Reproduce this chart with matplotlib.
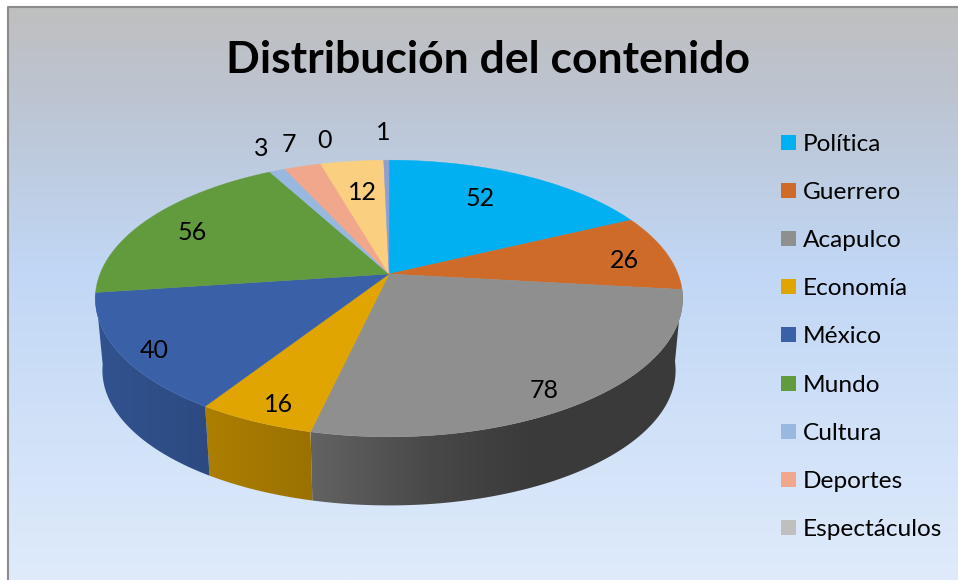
import numpy as np
import matplotlib
matplotlib.use('Agg')
import matplotlib.pyplot as plt
from matplotlib.colors import LinearSegmentedColormap, to_rgb
from matplotlib.patches import Polygon, Rectangle

plt.rcParams['font.family'] = ['Lato', 'DejaVu Sans']

# last two slices are not in the legend of the original
categories = ['Política', 'Guerrero', 'Acapulco', 'Economía', 'México', 'Mundo',
              'Cultura', 'Deportes', 'Espectáculos']
values = [52, 26, 78, 16, 40, 56, 3, 7, 0, 12, 1]
colors = ['#00b0f0', '#cf6b28', '#8f8f8f', '#e0a500', '#3a61a8', '#629a3e',
          '#98b8df', '#f0a78c', '#bfbfbf', '#fbcf80', '#8f9fcf']
label_pos = [(480, 198), (624, 260), (544, 390), (279, 404), (154, 350), (192, 232),
             (261, 149), (289, 144), (325, 141), (362, 192), (383, 133)]
# slices whose side can be seen: Acapulco, Economía, México
wall_slices = [2, 3, 4]

# perspective of the disc, in pixels
cx, cy = 389, 274
rx, ry, k = 289, 134, 0.177
depth, shrink = 72.5, 0.976


def top_edge(theta):
    x, y = np.sin(theta), np.cos(theta)
    w = 1 + k * y
    return cx + rx * x / w, cy - ry * y / w


def bottom_edge(theta):
    px, py = top_edge(theta)
    return cx + (px - cx) * shrink, cy + (py - cy) * shrink + depth


def wall_shade(x):
    return np.interp(x, [100, 205, 311, 433, 530, 690], [0.85, 0.77, 0.69, 0.50, 0.41, 0.41])


fig = plt.figure(figsize=(9.58, 5.8), dpi=100)
ax = fig.add_axes([0, 0, 1, 1])
ax.set_xlim(0, 958)
ax.set_ylim(580, 0)
ax.axis('off')

# background
bg = LinearSegmentedColormap.from_list('bg', [(0, '#bfbfbf'), (0.17, '#bcc5d3'),
                                              (0.46, '#c1d7f5'), (1, '#dfebfb')])
ax.imshow(np.linspace(0, 1, 256).reshape(-1, 1), cmap=bg, extent=(8, 958, 580, 6),
          aspect='auto', zorder=0)
ax.plot([8.5, 8.5, 958], [580, 6.5, 6.5], color='#8c8c8c', lw=1.5, zorder=1)

# slice limits
edges = np.cumsum([0] + values) / sum(values) * 2 * np.pi

# side wall, one clipped horizontal gradient per slice
for i in wall_slices:
    t = np.linspace(edges[i], edges[i + 1], 200)
    xt, yt = top_edge(t)
    xb, yb = bottom_edge(t)
    pts = list(zip(xt, yt)) + list(zip(xb[::-1], yb[::-1]))
    outline = Polygon(pts, closed=True, facecolor='none', edgecolor='none',
                      transform=ax.transData)
    ax.add_patch(outline)
    x_all = np.concatenate([xt, xb])
    xs = np.linspace(x_all.min(), x_all.max(), 256)
    grad = np.outer(wall_shade(xs), to_rgb(colors[i])).reshape(1, 256, 3)
    im = ax.imshow(grad, extent=(xs[0], xs[-1], yb.max() + 2, yt.min() - 2), aspect='auto', zorder=2)
    im.set_clip_path(outline)

# top of the pie
for i in range(len(values)):
    if values[i] == 0:
        continue
    t = np.linspace(edges[i], edges[i + 1], 120)
    px, py = top_edge(t)
    pts = [(cx, cy)] + list(zip(px, py))
    ax.add_patch(Polygon(pts, closed=True, facecolor=colors[i], edgecolor=colors[i],
                         lw=0.3, zorder=3))

# value labels
for v, (x, y) in zip(values, label_pos):
    ax.text(x, y, str(v), fontsize=18, color='black', ha='center', va='center', zorder=4)

# title
ax.text(488, 60, 'Distribución del contenido', fontsize=32, fontweight='bold',
        color='black', ha='center', va='center', zorder=4)

# legend
for i, name in enumerate(categories):
    y = 142.5 + i * 48.1
    ax.add_patch(Rectangle((781, y - 7.5), 15, 15, facecolor=colors[i], edgecolor='none', zorder=4))
    ax.text(803, y + 2, name, fontsize=17.6, color='black', ha='left', va='center', zorder=4)

fig.savefig('out.png', dpi=100)
